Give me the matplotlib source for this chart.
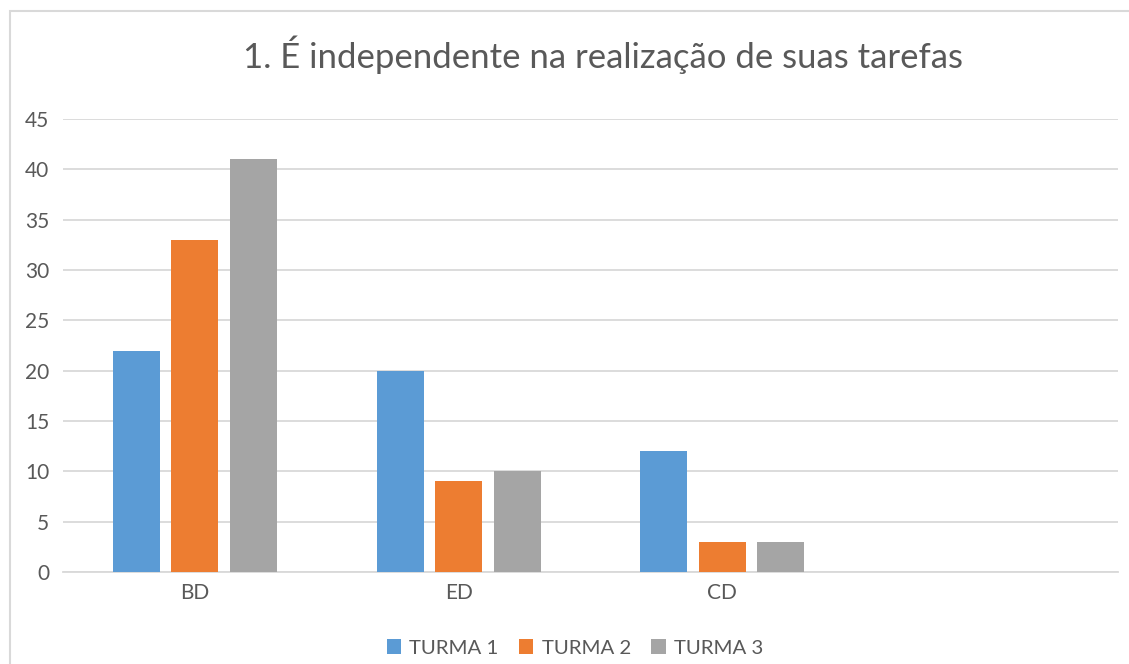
import matplotlib
matplotlib.use("Agg")
import matplotlib.pyplot as plt
import matplotlib.patches as mpatches
import numpy as np

title = "1. É independente na realização de suas tarefas"
categories = ["BD", "ED", "CD", ""]
series_names = ["TURMA 1", "TURMA 2", "TURMA 3"]
turma1 = [22, 20, 12, None]
turma2 = [33, 9, 3, None]
turma3 = [41, 10, 3, None]
yticks = [0, 5, 10, 15, 20, 25, 30, 35, 40, 45]

colors = ["#5B9BD5", "#ED7D31", "#A5A5A5"]
text_color = "#595959"
font = ["Lato", "DejaVu Sans"]
plt.rcParams['font.family'] = font

W, H = 1129, 664
fig = plt.figure(figsize=(W / 100, H / 100), dpi=100)
fig.patch.set_facecolor("white")

# outer chart border
border = mpatches.Rectangle((9.5 / W, -0.05), 1.1, (H - 10.5) / H + 0.05,
                            transform=fig.transFigure, fill=False,
                            edgecolor="#D9D9D9", linewidth=1.5, zorder=0)
fig.patches.append(border)

ax = fig.add_axes([63 / W, (H - 572) / H, (1118 - 63) / W, (572 - 119) / H])
x = np.arange(len(categories))
bw = 0.178
off = 0.2216
for i, (vals, c, name) in enumerate(zip([turma1, turma2, turma3], colors, series_names)):
    v = [np.nan if a is None else a for a in vals]
    ax.bar(x + (i - 1) * off, v, width=bw, color=c, label=name, zorder=3)

ax.set_xlim(-0.5, len(categories) - 0.5)
ax.set_ylim(0, 45)
ax.set_yticks(yticks)
ax.set_xticks(x)
ax.set_xticklabels(categories)
ax.yaxis.grid(True, color="#D9D9D9", linewidth=1.3, zorder=0)
ax.set_axisbelow(True)
for s in ["top", "right", "left"]:
    ax.spines[s].set_visible(False)
ax.spines["bottom"].set_color("#D9D9D9")
ax.spines["bottom"].set_linewidth(1.3)
ax.tick_params(axis="both", length=0, labelsize=15, colors=text_color, pad=10)
ax.tick_params(axis="x", pad=8)

fig.text(603 / W, (H - 55) / H, title, ha="center", va="center",
         fontsize=25, color=text_color)

leg = fig.legend(loc="center", bbox_to_anchor=(575 / W, (H - 648) / H), ncol=3,
                 frameon=False, fontsize=14.7, handlelength=0.7, handleheight=0.7,
                 handletextpad=0.4, columnspacing=1.0)
for t in leg.get_texts():
    t.set_color(text_color)

fig.savefig("out.png", dpi=100, facecolor="white")
